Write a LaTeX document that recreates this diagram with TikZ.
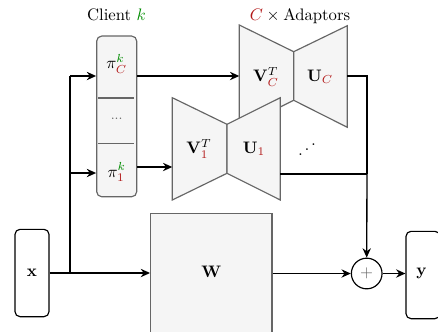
\documentclass[tikz,border=0pt]{standalone}
\usepackage{graphicx}
\usetikzlibrary{arrows.meta}
\definecolor{cred}{RGB}{178,24,24}
\definecolor{cgreen}{RGB}{0,140,0}
\definecolor{shapefill}{RGB}{245,245,245}
\definecolor{shapeline}{RGB}{102,102,102}
\tikzset{
  arr/.style={line width=0.8pt,-{Stealth[length=5.6pt,width=5pt]}},
  plain/.style={line width=0.8pt},
  trap/.style={fill=shapefill,draw=shapeline,line width=0.7pt,line join=miter},
  clientbox/.style={draw=shapeline,fill=shapefill,line width=0.7pt,rounded corners=3pt,minimum width=24pt,minimum height=96.4pt,inner sep=0pt},
  iobox/.style={draw=black,fill=white,line width=0.7pt,rounded corners=3pt,minimum width=20.4pt,minimum height=52.4pt,inner sep=0pt},
  wbox/.style={draw=shapeline,fill=shapefill,line width=0.7pt,minimum width=72.8pt,minimum height=80pt,inner sep=0pt},
  lbl/.style={inner sep=0pt,font=\normalsize}
}
\begin{document}
\begin{tikzpicture}[x=0.6pt,y=-0.6pt]
\useasboundingbox (0,0) rectangle (438,331);
\clip (0,0) rectangle (438,331);
% titles
\node[lbl] (clienttitle) at (116.5,15) {Client $\textcolor{cgreen}{k}$};
\node[lbl] (adaptitle) at (300,16) {$\textcolor{cred}{C}\times{}$Adaptors};
% client box
\node[clientbox] (client) at (116.7,116.4) {};
\draw[shapeline,line width=0.7pt] (98.3,98) -- (134.3,98);
\draw[shapeline,line width=0.7pt] (98.3,143.3) -- (134.3,143.3);
\node[lbl] (piC) at (116.7,64) {$\pi^{\textcolor{cgreen}{k}}_{\textcolor{cred}{C}}$};
\node[lbl,text=shapeline,font=\footnotesize] (pidots) at (116.7,119) {...};
\node[lbl] (pi1) at (116.7,172) {$\pi^{\textcolor{cgreen}{k}}_{\textcolor{cred}{1}}$};
% adaptor C
\draw[trap] (239.3,25) -- (293.7,51.7) -- (293.7,100.3) -- (239.3,127.3) -- cycle;
\draw[trap] (293.7,51.7) -- (347.3,25.7) -- (347.3,127.3) -- (293.7,100.3) -- cycle;
\node[lbl] (VC) at (266,77) {$\mathbf{V}^{T}_{\textcolor{cred}{C}}$};
\node[lbl] (UC) at (320,77) {$\mathbf{U}_{\textcolor{cred}{C}}$};
% adaptor 1
\draw[trap] (172.3,97.7) -- (227,124.3) -- (227,173.3) -- (172.3,200) -- cycle;
\draw[trap] (227,124.3) -- (280.3,97.7) -- (280.3,200) -- (227,173.3) -- cycle;
\node[lbl] (V1) at (199,149) {$\mathbf{V}^{T}_{\textcolor{cred}{1}}$};
\node[lbl] (U1) at (254,149) {$\mathbf{U}_{\textcolor{cred}{1}}$};
\node[lbl] (adots) at (307,145) {\reflectbox{$\ddots$}};
% bottom
\node[iobox] (x) at (32,273) {$\mathbf{x}$};
\node[wbox] (W) at (211.3,280) {};
\node[lbl] (Wlbl) at (211.3,272) {$\mathbf{W}$};
\node[draw=black,fill=white,circle,line width=0.7pt,minimum size=18.4pt,inner sep=0pt] (plus) at (366.7,273.5) {};
\node[lbl,text=shapeline] (plussign) at (366.7,273.5) {$+$};
\node[iobox] (y) at (423,275) {};
\node[lbl] (ylbl) at (421.5,273) {$\mathbf{y}$};
% coordinates
\coordinate (jbot) at (70,273);
\coordinate (jtop) at (70,76);
\coordinate (jmid) at (70,173);
\coordinate (vcin) at (239.3,76);
\coordinate (v1in) at (172.3,167);
\coordinate (ucout) at (347.3,76);
\coordinate (u1out) at (280.3,174);
\coordinate (colC) at (367,76);
\coordinate (col1) at (367,174);
% connectors
\draw[plain] (jbot) -- (jtop);
\draw[arr] (jtop) -- (jtop -| client.west);
\draw[arr] (jmid) -- (jmid -| client.west);
\draw[arr] (client.east |- vcin) -- (vcin);
\draw[arr] (client.east |- v1in) -- (v1in);
\draw[plain] (ucout) -- (colC) -- (col1);
\draw[plain] (u1out) -- (col1);
\draw[arr] (col1) -- (plus.north);
\draw[arr] (x.east) -- (x.east -| W.west);
\draw[arr] (W.east |- plus) -- (plus.west);
\draw[arr] (plus.east) -- (plus -| y.west);
\end{tikzpicture}
\end{document}
